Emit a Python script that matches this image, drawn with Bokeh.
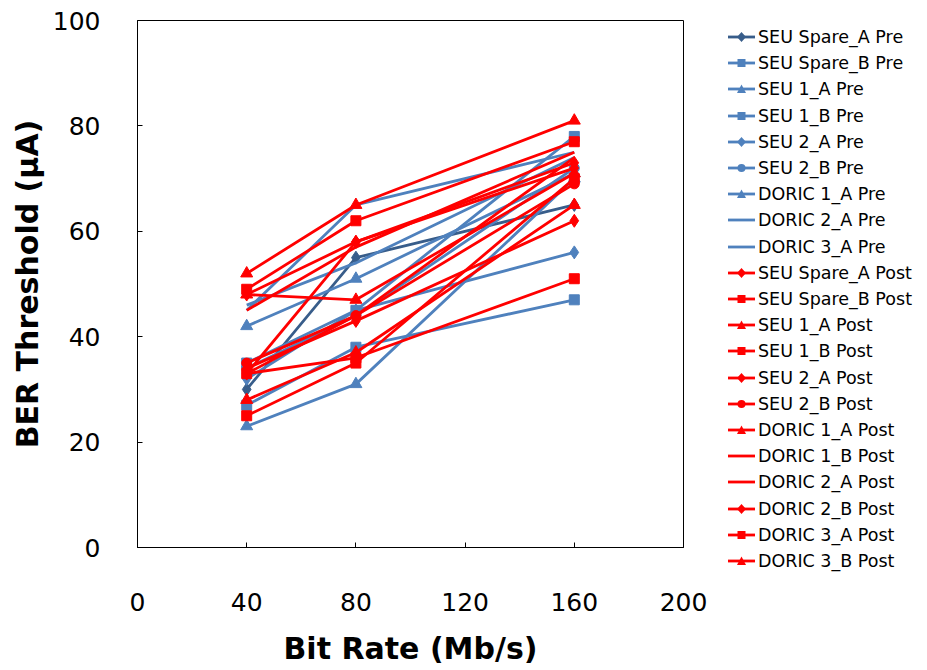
from bokeh.plotting import figure
from bokeh.layouts import row
from bokeh.models import Range1d, FixedTicker, Div
from bokeh.embed import file_html
from bokeh.resources import INLINE

bit_rates = [40, 80, 160]

series_names = [
    "SEU Spare_A Pre", "SEU Spare_B Pre", "SEU 1_A Pre", "SEU 1_B Pre",
    "SEU 2_A Pre", "SEU 2_B Pre", "DORIC 1_A Pre", "DORIC 2_A Pre",
    "DORIC 3_A Pre",
    "SEU Spare_A Post", "SEU Spare_B Post", "SEU 1_A Post", "SEU 1_B Post",
    "SEU 2_A Post", "SEU 2_B Post", "DORIC 1_A Post", "DORIC 1_B Post",
    "DORIC 2_A Post", "DORIC 2_B Post", "DORIC 3_A Post", "DORIC 3_B Post",
]

seu_spare_a_pre = [30, 55, 65]
seu_spare_b_pre = [27, 38, 47]
seu_1a_pre = [42, 51, 71]
seu_1b_pre = [35, 45, 78]
seu_2a_pre = [32, 45, 56]
seu_2b_pre = [34, 44, 72]
doric_1a_pre = [23, 31, 70]
doric_2a_pre = [46, 54, 74]
doric_3a_pre = [45, 65, 75]

seu_spare_a_post = [48, 58, 73]
seu_spare_b_post = [33, 36, 51]
seu_1a_post = [52, 65, 81]
seu_1b_post = [49, 62, 77]
seu_2a_post = [34, 43, 62]
seu_2b_post = [35, 44, 69]
doric_1a_post = [48, 47, 71]
doric_1b_post = [45, 57, 75]
doric_2a_post = [33, 44, 74]
doric_2b_post = [33, 58, 72]
doric_3a_post = [25, 35, 70]
doric_3b_post = [28, 37, 65]

series_values = [
    seu_spare_a_pre, seu_spare_b_pre, seu_1a_pre, seu_1b_pre, seu_2a_pre,
    seu_2b_pre, doric_1a_pre, doric_2a_pre, doric_3a_pre,
    seu_spare_a_post, seu_spare_b_post, seu_1a_post, seu_1b_post, seu_2a_post,
    seu_2b_post, doric_1a_post, doric_1b_post, doric_2a_post, doric_2b_post,
    doric_3a_post, doric_3b_post,
]

x_ticks = [0, 40, 80, 120, 160, 200]
y_ticks = [0, 20, 40, 60, 80, 100]

# styles
BLUE = "#4F81BD"
DARK_BLUE = "#385D8A"
RED = "#FF0000"
series_colors = [DARK_BLUE] + [BLUE] * 8 + [RED] * 12
series_markers = [
    "diamond", "square", "triangle", "square", "diamond", "circle", "triangle", None, None,
    "diamond", "square", "triangle", "square", "diamond", "circle", "triangle", None, None,
    "diamond", "square", "triangle",
]
marker_sizes = {"diamond": 13, "square": 10, "triangle": 12, "circle": 10}

p = figure(width=713, height=670, output_backend="svg", toolbar_location=None,
           x_range=Range1d(0, 200), y_range=Range1d(0, 100),
           min_border_left=137, min_border_top=20, min_border_bottom=123,
           min_border_right=30)

p.xgrid.visible = False
p.ygrid.visible = False
p.outline_line_color = "black"
p.outline_line_width = 1
p.background_fill_color = "white"
p.border_fill_color = "white"

p.xaxis.ticker = FixedTicker(ticks=x_ticks)
p.yaxis.ticker = FixedTicker(ticks=y_ticks)
for ax in (p.xaxis, p.yaxis):
    ax.axis_line_color = "black"
    ax.major_tick_in = 5
    ax.major_tick_out = 0
    ax.minor_tick_line_color = None
    ax.major_tick_line_color = "black"
    ax.major_label_text_font = "DejaVu Sans"
    ax.major_label_text_font_size = "25px"
    ax.major_label_text_color = "black"
    ax.axis_label_text_font = "DejaVu Sans"
    ax.axis_label_text_font_size = "30px"
    ax.axis_label_text_font_style = "bold"
    ax.axis_label_text_color = "black"

p.xaxis.axis_label = "Bit Rate (Mb/s)"
p.yaxis.axis_label = "BER Threshold (µA)"
p.xaxis.major_label_standoff = 45
p.xaxis.axis_label_standoff = 17
p.yaxis.major_label_standoff = 37
p.yaxis.axis_label_standoff = 5

for vals, col, mk in zip(series_values, series_colors, series_markers):
    p.line(bit_rates, vals, line_color=col, line_width=2.8)
    if mk is not None:
        p.scatter(bit_rates, vals, marker=mk, size=marker_sizes[mk],
                  fill_color=col, line_color=col)


# legend as an HTML panel to the right of the plot
def legend_icon(color, marker):
    cx, cy = 28.5, 13
    parts = [f'<line x1="15" y1="{cy}" x2="42" y2="{cy}" stroke="{color}" stroke-width="2.8"/>']
    if marker == "diamond":
        parts.append(f'<polygon points="{cx},{cy-5} {cx+4.5},{cy} {cx},{cy+5} {cx-4.5},{cy}" fill="{color}"/>')
    elif marker == "square":
        parts.append(f'<rect x="{cx-4}" y="{cy-4}" width="8" height="8" fill="{color}"/>')
    elif marker == "triangle":
        parts.append(f'<polygon points="{cx},{cy-4.5} {cx+4.5},{cy+4} {cx-4.5},{cy+4}" fill="{color}"/>')
    elif marker == "circle":
        parts.append(f'<circle cx="{cx}" cy="{cy}" r="4" fill="{color}"/>')
    return f'<svg width="42" height="26" style="flex:none">{"".join(parts)}</svg>'


row_top, row_step = 37, 26.2
rows_html = []
for i, (name, col, mk) in enumerate(zip(series_names, series_colors, series_markers)):
    top = row_top + row_step * i - 13
    rows_html.append(
        f'<div style="position:absolute;left:0;top:{top:.1f}px;height:26px;'
        f'display:flex;align-items:center;white-space:nowrap;">'
        f'{legend_icon(col, mk)}'
        f'<span style="margin-left:3px;font-family:\'DejaVu Sans\';font-size:17.5px;'
        f'line-height:26px;color:black;">{name}</span></div>'
    )
legend_html = ('<div style="position:relative;width:214px;height:670px;background:white;">'
               + "".join(rows_html) + '</div>')
lg = Div(text=legend_html, width=214, height=670, margin=(0, 0, 0, 0))

layout = row(p, lg)
open("out.html", "w").write(file_html(layout, INLINE))
